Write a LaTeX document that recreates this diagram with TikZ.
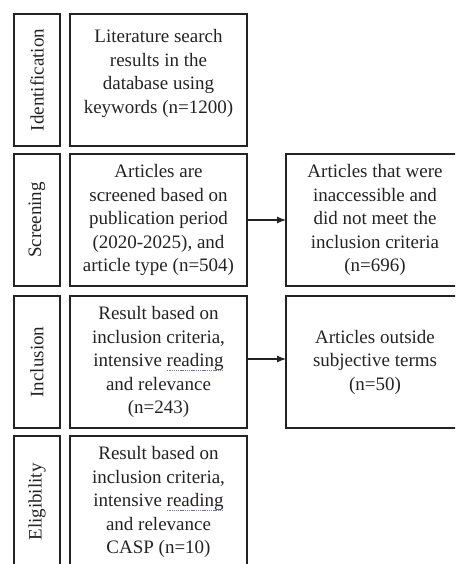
\documentclass[tikz,border=0pt]{standalone}
\usepackage{fontspec}
\setmainfont{Liberation Serif}
\usetikzlibrary{arrows.meta}
\definecolor{spell}{RGB}{110,110,205}
\definecolor{ink}{RGB}{35,35,35}
\newsavebox\spellbox
\newcommand\spellmark[1]{\sbox\spellbox{#1}\rlap{\textcolor{spell}{\lower4pt\hbox to \wd\spellbox{\xleaders\hbox{\rule{1.1pt}{0.9pt}\hspace{0.7pt}}\hfill}}}\usebox\spellbox}
\begin{document}
\begin{tikzpicture}[x=1pt,y=-1pt,
  box/.style={draw=ink, line width=1.8pt, inner sep=0pt, outer sep=0pt, anchor=north west},
  txt/.style={align=center, inner sep=0pt, font=\fontsize{19}{23.5}\selectfont, text=ink},
  side/.style={box, minimum width=46pt, minimum height=132pt},
  main/.style={box, minimum width=177pt, minimum height=132pt, txt},
  vlab/.style={txt, rotate=90},
  arr/.style={-{Latex[length=9pt,width=7pt]}, line width=1.1pt, draw=ink}]
\useasboundingbox (0,0) rectangle (455,564);
\clip (0,0) rectangle (455,564);
% side label boxes
\node[side] (s1) at (14,14) {};
\node[side] (s2) at (14,154) {};
\node[side] (s3) at (14,296) {};
\node[side] (s4) at (14,436) {};
\node[vlab] (v1) at (s1.center) {Identification};
\node[vlab] (v2) at (s2.center) {Screening};
\node[vlab] (v3) at (s3.center) {Inclusion};
\node[vlab] (v4) at (s4.center) {Eligibility};
% main boxes
\node[main] (m1) at (70,14) {\raisebox{6.5pt}[\height][\depth]{\begin{tabular}{@{}c@{}}Literature search\\ results in the\\ database using\\ keywords (n=1200)\end{tabular}}};
\node[main] (m2) at (70,154) {Articles are\\ screened based on\\ publication period\\ (2020-2025), and\\ article type (n=504)};
\node[main] (m3) at (70,296) {Result based on\\ inclusion criteria,\\ intensive \spellmark{reading}\\ and relevance\\ (n=243)};
\node[main] (m4) at (70,436) {Result based on\\ inclusion criteria,\\ intensive \spellmark{reading}\\ and relevance\\ CASP (n=10)};
% right boxes
\node[main, minimum width=178pt] (r2) at (286,154) {Articles that were\\ inaccessible and\\ did not meet the\\ inclusion criteria\\ (n=696)};
\node[main, minimum width=178pt] (r3) at (286,296) {Articles outside\\ subjective terms\\ (n=50)};
% arrows
\draw[arr] (m2.east) -- (m2.east -| r2.west);
\draw[arr] ([yshift=3pt]m3.east) -- ([yshift=3pt]m3.east -| r3.west);
\end{tikzpicture}
\end{document}
